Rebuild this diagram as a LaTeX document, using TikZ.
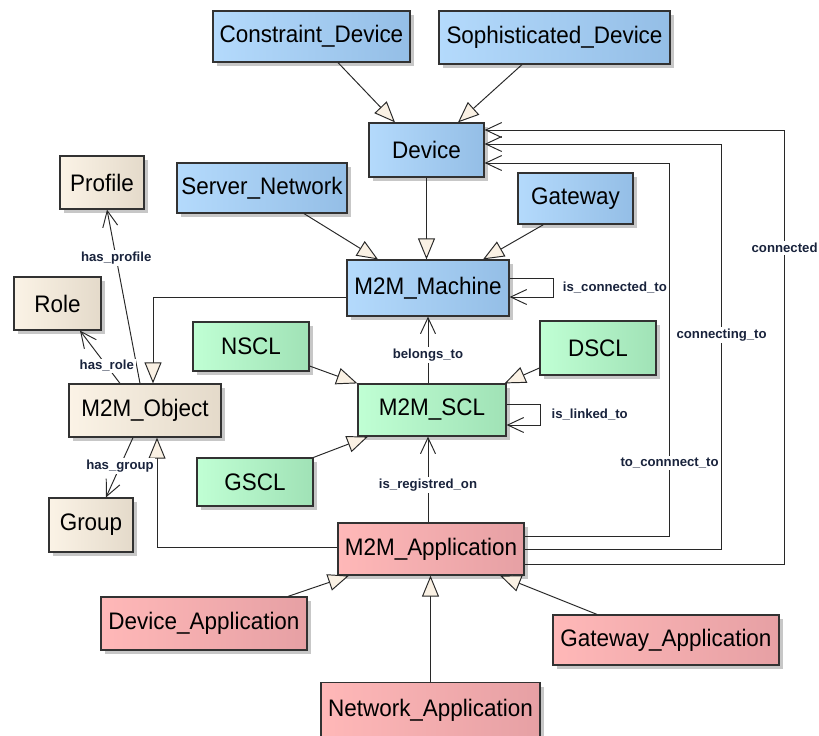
\documentclass[tikz,border=0pt]{standalone}
\usepackage{fontspec}
\setmainfont{Liberation Sans}
\newfontfamily\boxfont{Liberation Sans}[FakeStretch = 0.94]
\usepackage{tikz}
\usetikzlibrary{
    arrows.meta,
    calc,
    positioning,
    shadows
}
\definecolor{devleft}{RGB}{180,218,252}
\definecolor{devright}{RGB}{148,190,230}
\definecolor{sclleft}{RGB}{192,255,212}
\definecolor{sclright}{RGB}{160,226,182}
\definecolor{objleft}{RGB}{251,243,230}
\definecolor{objright}{RGB}{228,218,202}
\definecolor{appleft}{RGB}{255,184,184}
\definecolor{appright}{RGB}{230,160,164}
\definecolor{tipfill}{RGB}{250,241,228}
\definecolor{boxline}{RGB}{50,50,50}
\definecolor{edgeline}{RGB}{40,40,40}
\definecolor{lbltext}{RGB}{25,35,60}
\tikzset{
    every picture/.style = {
        > = Stealth,
        x = 0.02cm,
        y = -0.02cm
    },
    umlbox/.style = {
        draw = boxline,
        line width = 0.7pt,
        rectangle,
        inner xsep = 1pt,
        inner ysep = 2pt,
        font = \boxfont\fontsize{13.6}{15}\selectfont,
        drop shadow = {shadow xshift = 2.5pt, shadow yshift = -2.5pt,
                       fill = black, opacity = 0.22}
    },
    devbox/.style = {umlbox, left color = devleft, right color = devright},
    sclbox/.style = {umlbox, left color = sclleft, right color = sclright},
    objbox/.style = {umlbox, left color = objleft, right color = objright},
    appbox/.style = {umlbox, left color = appleft, right color = appright},
    isa/.style = {
        draw = edgeline,
        line width = 0.55pt,
        -{Triangle[length = 0.42cm, width = 0.34cm, fill = tipfill]}
    },
    assoc/.style = {
        draw = edgeline,
        line width = 0.55pt,
        -{Straight Barb[length = 0.32cm, width = 0.3cm]}
    },
    lbl/.style = {
        fill = white,
        text = lbltext,
        inner sep = 1pt,
        font = \fontsize{7.5}{9}\selectfont\bfseries
    }
}

\begin{document}
\begin{tikzpicture}
    \useasboundingbox (0,0) rectangle (819,735);

    % devices
    \node[devbox, minimum width = 3.94cm, minimum height = 1.02cm] (cdev) at (311.5,36.5) {Constraint\_Device};
    \node[devbox, minimum width = 4.62cm, minimum height = 1.06cm] (sdev) at (554.5,37.5) {Sophisticated\_Device};
    \node[devbox, minimum width = 2.30cm, minimum height = 1.08cm] (dev) at (426.5,150) {Device};
    \node[devbox, minimum width = 3.40cm, minimum height = 1.00cm] (srv) at (262,188) {Server\_Network};
    \node[devbox, minimum width = 2.30cm, minimum height = 1.02cm] (gw) at (575.5,198.5) {Gateway};
    \node[devbox, minimum width = 3.24cm, minimum height = 1.12cm] (mach) at (428,288) {M2M\_Machine};

    % objects
    \node[objbox, minimum width = 1.68cm, minimum height = 1.06cm] (prof) at (102,182.5) {Profile};
    \node[objbox, minimum width = 1.74cm, minimum height = 1.06cm] (role) at (57.5,303.5) {Role};
    \node[objbox, minimum width = 3.04cm, minimum height = 1.06cm] (obj) at (145,410.5) {M2M\_Object};
    \node[objbox, minimum width = 1.68cm, minimum height = 1.08cm] (grp) at (91,525) {Group};

    % service capability layers
    \node[sclbox, minimum width = 2.32cm, minimum height = 0.98cm] (nscl) at (251,346.5) {NSCL};
    \node[sclbox, minimum width = 2.32cm, minimum height = 1.08cm] (dscl) at (598,348) {DSCL};
    \node[sclbox, minimum width = 2.96cm, minimum height = 1.04cm] (scl) at (432,410) {M2M\_SCL};
    \node[sclbox, minimum width = 2.32cm, minimum height = 0.96cm] (gscl) at (255,482) {GSCL};

    % applications
    \node[appbox, minimum width = 3.72cm, minimum height = 1.04cm] (app) at (431,549) {M2M\_Application};
    \node[appbox, minimum width = 4.12cm, minimum height = 1.06cm] (dapp) at (204,623.5) {Device\_Application};
    \node[appbox, minimum width = 4.52cm, minimum height = 1.00cm] (gapp) at (666,640) {Gateway\_Application};
    \node[appbox, minimum width = 4.38cm, minimum height = 1.10cm] (napp) at (430.5,710) {Network\_Application};

    % generalisations
    \draw[isa] ($(cdev.south)+(26.5,0)$) -- ($(dev.north)+(-31.5,0)$);
    \draw[isa] ($(sdev.south)+(-32.5,0)$) -- ($(dev.north)+(31.5,0)$);
    \draw[isa] (dev.south) -- (dev.south |- mach.north);
    \draw[isa] ($(srv.south)+(42,0)$) -- ($(mach.north)+(-50,0)$);
    \draw[isa] ($(gw.south)+(-32,0)$) -- ($(mach.north)+(55,0)$);
    \draw[isa] ($(mach.west)+(0,9)$) -| ($(obj.north)+(8,0)$);
    \draw[isa] ($(nscl.east)+(0,19.5)$) -- (scl.north west);
    \draw[isa] ($(dscl.west)+(0,20)$) -- ($(scl.north east)+(-2,0)$);
    \draw[isa] (gscl.north east) -- ($(scl.south)+(-64,0)$);
    \draw[isa] ($(app.west)+(0,-2)$) -| ($(obj.south)+(12,0)$);
    \draw[isa] ($(dapp.north)+(84,0)$) -- ($(app.south)+(-82,0)$);
    \draw[isa] (napp.north) -- (napp.north |- app.south);
    \draw[isa] ($(gapp.north)+(-69,0)$) -- ($(app.south)+(69,0)$);

    % associations
    \draw[assoc] ($(mach.east)+(0,-10)$) -- ++(44,0) -- ++(0,19)
        node[lbl, midway, anchor = west, xshift = 4pt] {is\_connected\_to}
        -- ($(mach.east)+(0,9)$);
    \draw[assoc] ($(scl.east)+(0,-6)$) -- ++(34,0) -- ++(0,21)
        node[lbl, midway, anchor = west, xshift = 5pt] {is\_linked\_to}
        -- ($(scl.east)+(0,15)$);
    \draw[assoc] (mach.south |- scl.north) -- node[lbl, pos = 0.43] {belongs\_to} (mach.south);
    \draw[assoc] (mach.south |- app.north) -- node[lbl, pos = 0.44] {is\_registred\_on} (mach.south |- scl.south);
    \draw[assoc] ($(obj.north)+(-5,0)$) -- node[lbl, pos = 0.72] {has\_profile} ($(prof.south)+(5,0)$);
    \draw[assoc] ($(obj.north)+(-25,0)$) -- node[lbl, pos = 0.33] {has\_role} ($(role.south)+(22.5,0)$);
    \draw[assoc] ($(obj.south)+(-12,0)$) -- node[lbl, pos = 0.48] {has\_group} ($(grp.north)+(15,0)$);
    \draw[assoc] ($(app.east)+(0,-13)$) -- ++(145,0)
        |- node[lbl, pos = 0.098] {to\_connnect\_to} ($(dev.east)+(0,13)$);
    \draw[assoc] (app.east) -- ++(197,0)
        |- node[lbl, pos = 0.264] {connecting\_to} ($(dev.east)+(0,-6)$);
    \draw[assoc] ($(app.east)+(0,15)$) -- ++(260,0)
        |- node[lbl, pos = 0.364] {connected} ($(dev.east)+(0,-20)$);
\end{tikzpicture}
\end{document}
